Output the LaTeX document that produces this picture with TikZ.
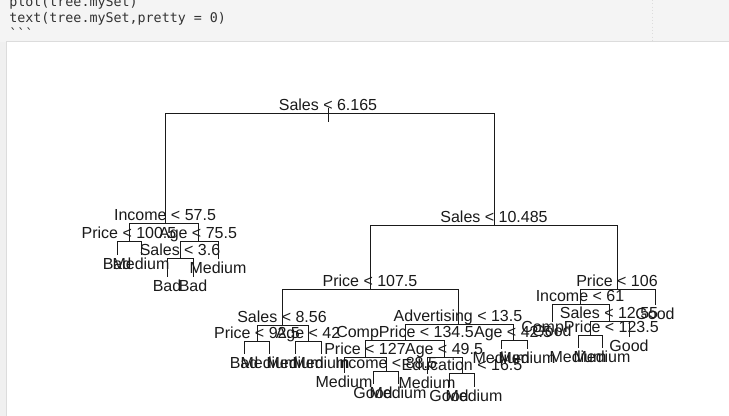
\documentclass[tikz,border=0pt]{standalone}
\usepackage{fontspec}
\setmainfont{Liberation Sans}
\newfontfamily\codefont{DejaVu Sans Mono}
\definecolor{bandgrey}{HTML}{F4F4F4}
\definecolor{stripgrey}{HTML}{F0F0F0}
\definecolor{rulegrey}{HTML}{DCDCDC}
\definecolor{codegrey}{HTML}{333333}
\definecolor{inkcol}{HTML}{1A1A1A}
\tikzset{
  edge/.style={line width=0.75pt, inkcol},
  intl/.style={anchor=base, inner sep=0pt, text=inkcol, font=\fontsize{12}{12}\selectfont, yshift=2.25pt},
  leafl/.style={anchor=base, inner sep=0pt, text=inkcol, font=\fontsize{12}{12}\selectfont, yshift=-11.25pt},
  codel/.style={anchor=base west, inner sep=0pt, text=codegrey, font=\codefont\fontsize{10}{10}\selectfont}
}
\begin{document}
\begin{tikzpicture}[x=0.75pt,y=-0.75pt]
\useasboundingbox (0,0) rectangle (729,416);
% background panels
\fill[white] (0,0) rectangle (729,416);
\fill[bandgrey] (0,0) rectangle (729,42);
\fill[stripgrey] (0,42) rectangle (6,416);
\draw[rulegrey, line width=0.75pt] (6,42) -- (729,42);
\draw[rulegrey, line width=0.5pt] (6,42) -- (6,416);
\draw[rulegrey, line width=0.5pt, dotted] (652,0) -- (652,42);
% code lines
\node[codel] (c1) at (9,7) {plot(tree.mySet)};
\node[codel] (c2) at (9,23) {text(tree.mySet,pretty = 0)};
\node[codel] (c3) at (9,39) {```};

% ---- tree coordinates ----
\coordinate (Rtop) at (328,108);
\coordinate (Rbot) at (328,122);
\coordinate (R) at (328,114);
% left subtree
\coordinate (A) at (165,224);
\coordinate (A1) at (129,242);
\coordinate (A11) at (117,255);
\coordinate (A12) at (141,255);
\coordinate (A2) at (198,242);
\coordinate (A21) at (180,259);
\coordinate (A211) at (167,277);
\coordinate (A212) at (193,277);
\coordinate (A22) at (218,259);
% right subtree
\coordinate (B) at (494,226);
\coordinate (B1) at (370,290);
\coordinate (B11) at (282,326);
\coordinate (B111) at (257,342);
\coordinate (B1111) at (244,354);
\coordinate (B1112) at (269,354);
\coordinate (B112) at (308,342);
\coordinate (B1121) at (295,354);
\coordinate (B1122) at (321,354);
\coordinate (B12) at (458,325);
\coordinate (B121) at (405,341);
\coordinate (B1211) at (365,358);
\coordinate (B12111) at (344,373);
\coordinate (B12112) at (386,372);
\coordinate (B121121) at (373,384);
\coordinate (B121122) at (398,384);
\coordinate (B1212) at (444,358);
\coordinate (B12121) at (427,374);
\coordinate (B12122) at (462,374);
\coordinate (B121221) at (449,387);
\coordinate (B121222) at (474,387);
\coordinate (B122) at (513,341);
\coordinate (B1221) at (501,349);
\coordinate (B1222) at (527,349);
\coordinate (B2) at (617,290);
\coordinate (B21) at (580,305);
\coordinate (B211) at (552,322);
\coordinate (B212) at (609,322);
\coordinate (B2121) at (590,336);
\coordinate (B21211) at (578,348);
\coordinate (B21212) at (602,348);
\coordinate (B2122) at (629,337);
\coordinate (B22) at (655,305);

% ---- connectors ----
\draw[edge] (Rtop) -- (Rbot);
\foreach \p/\c in {R/A, R/B,
  A/A1, A/A2, A1/A11, A1/A12, A2/A21, A2/A22, A21/A211, A21/A212,
  B/B1, B/B2, B1/B11, B1/B12, B11/B111, B11/B112,
  B111/B1111, B111/B1112, B112/B1121, B112/B1122,
  B12/B121, B12/B122, B121/B1211, B121/B1212,
  B1211/B12111, B1211/B12112, B12112/B121121, B12112/B121122,
  B1212/B12121, B1212/B12122, B12122/B121221, B12122/B121222,
  B122/B1221, B122/B1222,
  B2/B21, B2/B22, B21/B211, B21/B212, B212/B2121, B212/B2122,
  B2121/B21211, B2121/B21212}
  \draw[edge] (\p) -| (\c);

% ---- split labels ----
\node[intl] (lR) at (R) {Sales < 6.165};
\node[intl] (lA) at (A) {Income < 57.5};
\node[intl] (lA1) at (A1) {Price < 100.5};
\node[intl] (lA2) at (A2) {Age < 75.5};
\node[intl] (lA21) at (A21) {Sales < 3.6};
\node[intl] (lB) at (B) {Sales < 10.485};
\node[intl] (lB1) at (B1) {Price < 107.5};
\node[intl] (lB11) at (B11) {Sales < 8.56};
\node[intl] (lB111) at (B111) {Price < 92.5};
\node[intl] (lB112) at (B112) {Age < 42};
\node[intl] (lB12) at (B12) {Advertising < 13.5};
\node[intl] (lB121) at (B121) {CompPrice < 134.5};
\node[intl] (lB1211) at (B1211) {Price < 127};
\node[intl] (lB12112) at (B12112) {Income < 88.5};
\node[intl] (lB1212) at (B1212) {Age < 49.5};
\node[intl] (lB12122) at (B12122) {Education < 16.5};
\node[intl] (lB122) at (B122) {Age < 42.5};
\node[intl] (lB2) at (B2) {Price < 106};
\node[intl] (lB21) at (B21) {Income < 61};
\node[intl] (lB212) at (B212) {Sales < 12.55};
\node[intl] (lB2121) at (B2121) {CompPrice < 123.5};

% ---- leaf labels ----
\node[leafl] (lA11) at (A11) {Bad};
\node[leafl] (lA12) at (A12) {Medium};
\node[leafl] (lA211) at (A211) {Bad};
\node[leafl] (lA212) at (A212) {Bad};
\node[leafl] (lA22) at (A22) {Medium};
\node[leafl] (lB1111) at (B1111) {Bad};
\node[leafl] (lB1112) at (B1112) {Medium};
\node[leafl] (lB1121) at (B1121) {Medium};
\node[leafl] (lB1122) at (B1122) {Medium};
\node[leafl] (lB12111) at (B12111) {Medium};
\node[leafl] (lB121121) at (B121121) {Good};
\node[leafl] (lB121122) at (B121122) {Medium};
\node[leafl] (lB12121) at (B12121) {Medium};
\node[leafl] (lB121221) at (B121221) {Good};
\node[leafl] (lB121222) at (B121222) {Medium};
\node[leafl] (lB1221) at (B1221) {Medium};
\node[leafl] (lB1222) at (B1222) {Medium};
\node[leafl] (lB211) at (B211) {Good};
\node[leafl] (lB21211) at (B21211) {Medium};
\node[leafl] (lB21212) at (B21212) {Medium};
\node[leafl] (lB2122) at (B2122) {Good};
\node[leafl] (lB22) at (B22) {Good};
\end{tikzpicture}
\end{document}
